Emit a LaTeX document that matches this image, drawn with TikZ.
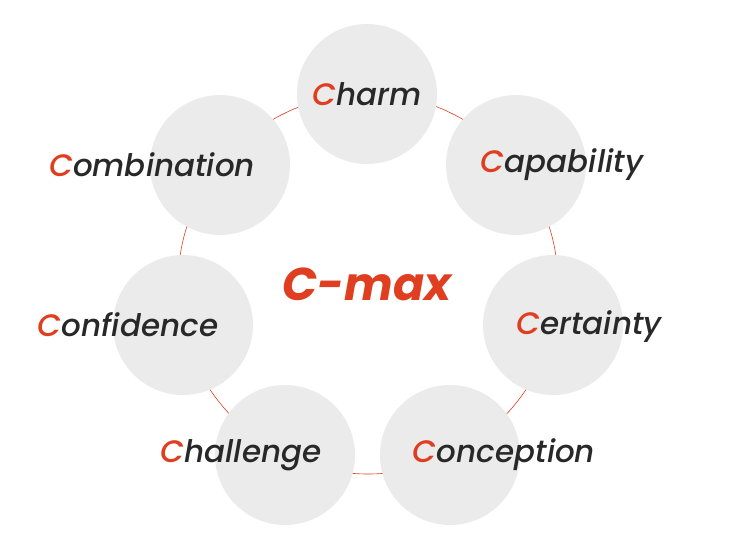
\documentclass[tikz,border=0pt]{standalone}
\usepackage{fontspec}
\setmainfont{Poppins}
\newfontfamily\medfont{Poppins Medium Italic}
\usetikzlibrary{positioning}
\definecolor{cred}{RGB}{224,62,32}
\definecolor{cgray}{RGB}{235,235,235}
\definecolor{ctext}{RGB}{40,40,40}

\begin{document}
\begin{tikzpicture}[x=1pt,y=-1pt,
  every node/.style={font=\fontsize{31}{34}\selectfont\medfont, text=ctext},
  bubble/.style={circle, fill=cgray, minimum size=140pt, inner sep=0pt},
  lbl/.style={inner sep=0pt, anchor=center},
  ring/.style={draw=cred, line width=0.6pt}]
\useasboundingbox (0,0) rectangle (736,552);
\coordinate (o) at (368,284);
\draw[ring] (o) circle[radius=190];
\node[bubble] (b1) at (367,94) {};
\node[bubble] (b2) at (516,165) {};
\node[bubble] (b3) at (553,325) {};
\node[bubble] (b4) at (450,455) {};
\node[bubble] (b5) at (285,455) {};
\node[bubble] (b6) at (183,325) {};
\node[bubble] (b7) at (220,165) {};
\node[lbl] (charm) at (367,94) {\textcolor{cred}{C}harm};
\node[lbl] (capab) at (562,165) {\textcolor{cred}{C}apability};
\node[lbl] (certa) at (589,327) {\textcolor{cred}{C}ertainty};
\node[lbl] (conce) at (504,455) {\textcolor{cred}{C}onception};
\node[lbl] (chall) at (241,455) {\textcolor{cred}{C}hallenge};
\node[lbl] (confi) at (128,325) {\textcolor{cred}{C}onfidence};
\node[lbl] (combi) at (152,165) {\textcolor{cred}{C}ombination};
\node[lbl, text=cred, font=\fontsize{46}{50}\selectfont\rmfamily\bfseries\itshape] (cmax) at (367,284) {C-max};
\end{tikzpicture}
\end{document}
